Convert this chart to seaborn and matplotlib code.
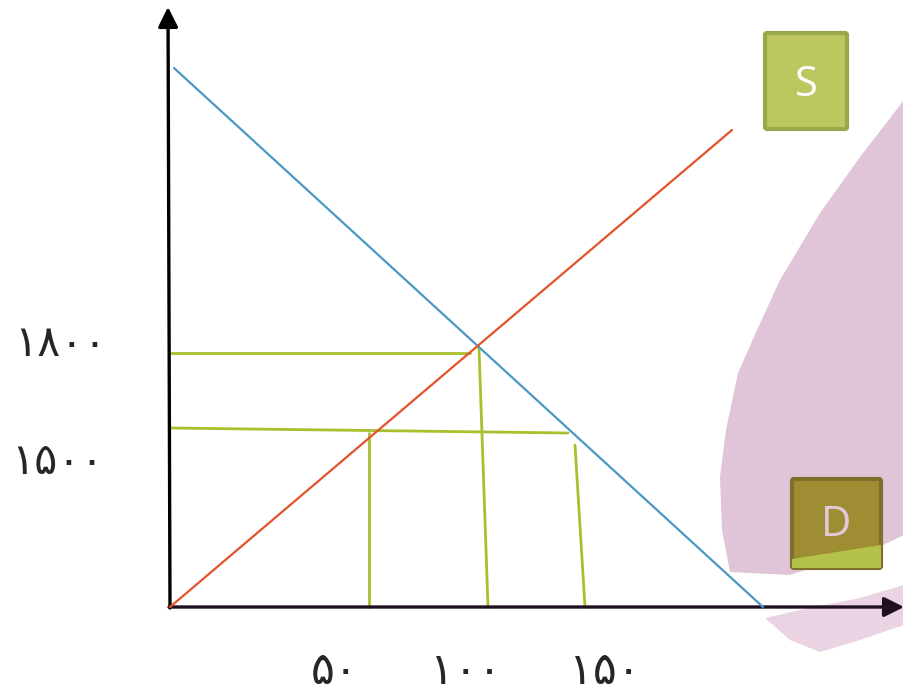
import seaborn as sns
import matplotlib.pyplot as plt
import pandas as pd
from matplotlib.patches import FancyBboxPatch, Polygon

# chart units: quantity to the right of the origin, price above it
demand_q = [4, 593]
demand_p = [539, 0]
supply_q = [0, 562]
supply_p = [0, 477]

# green guide lines (quantity pairs, price pairs)
guide_q = [[0, 300], [309, 318], [0, 398], [199, 199], [405, 415]]
guide_p = [[254, 254], [259, 0], [179, 174], [174, 0], [162, 0]]

price_labels = ['۱۸۰۰', '۱۵۰۰']
price_label_pos = [(-110, 263), (-112, 145)]
qty_labels = ['۵۰', '۱۰۰', '۱۵۰']
qty_label_pos = [(165, -64), (296, -64), (435, -64)]

# background decoration (pink blob from the slide template)
blob_main = [(734, 507), (690, 450), (650, 394), (610, 327), (587, 277), (568, 234),
             (556, 177), (550, 130), (552, 77), (560, 35), (620, 32), (713, 62),
             (734, 72)]
blob_strip = [(595, -11), (630, -3), (690, 9), (734, 22), (734, -18), (690, -33),
              (650, -45), (620, -33)]

sns.set_style('white')
fig = plt.figure(figsize=(9.04, 6.97), dpi=100)
ax = fig.add_axes([0, 0, 1, 1])
ax.set_xlim(-170, 734)
ax.set_ylim(-90, 607)
ax.axis('off')

ax.add_patch(Polygon(blob_main, closed=True, facecolor='#e0c4d8', edgecolor='none', zorder=0))
ax.add_patch(Polygon(blob_strip, closed=True, facecolor='#ead3e2', edgecolor='none', zorder=0))

# axes with arrow heads
ax.annotate('', xy=(-2, 600), xytext=(0, -1), annotation_clip=False,
            arrowprops=dict(arrowstyle='-|>', color='black', lw=2.4, mutation_scale=30,
                            shrinkA=0, shrinkB=0), zorder=3)
ax.annotate('', xy=(734, 0), xytext=(-1, 0), annotation_clip=False,
            arrowprops=dict(arrowstyle='-|>', color='#1e1020', lw=2.4, mutation_scale=30,
                            shrinkA=0, shrinkB=0), zorder=3)

for q, p in zip(guide_q, guide_p):
    sns.lineplot(x=q, y=p, sort=False, estimator=None, errorbar=None, ax=ax,
                 color='#a8c02c', lw=2.0, zorder=2)

sns.lineplot(x=demand_q, y=demand_p, sort=False, estimator=None, ax=ax,
             color='#4b97c5', lw=1.6, zorder=4)
sns.lineplot(x=supply_q, y=supply_p, sort=False, estimator=None, ax=ax,
             color='#e2532b', lw=1.6, zorder=4)

for lab, (x, y) in zip(price_labels, price_label_pos):
    ax.text(x, y, lab, fontsize=31, ha='center', va='center', family='DejaVu Sans')
for lab, (x, y) in zip(qty_labels, qty_label_pos):
    ax.text(x, y, lab, fontsize=32, ha='center', va='center', family='DejaVu Sans')

# S and D boxes
ax.add_patch(FancyBboxPatch((595, 478), 82, 96, boxstyle='round,pad=0,rounding_size=2',
                            facecolor='#bcc85f', edgecolor='#9aa84c', lw=3, zorder=5))
ax.text(636, 522, 'S', fontsize=30, color='white', ha='center', va='center',
        family='Open Sans', zorder=6)
ax.add_patch(FancyBboxPatch((622, 39), 89, 89, boxstyle='round,pad=0,rounding_size=2',
                            facecolor='#9e8d33', edgecolor='#7f6f2c', lw=3, zorder=5))
ax.add_patch(Polygon([(622, 39), (622, 48), (711, 62), (711, 39)], closed=True,
                     facecolor='#b4c24a', edgecolor='none', zorder=5))
ax.text(666, 82, 'D', fontsize=30, color='#e6c8dc', ha='center', va='center',
        family='Open Sans', zorder=6)

fig.savefig('out.png', dpi=100, facecolor='white')
